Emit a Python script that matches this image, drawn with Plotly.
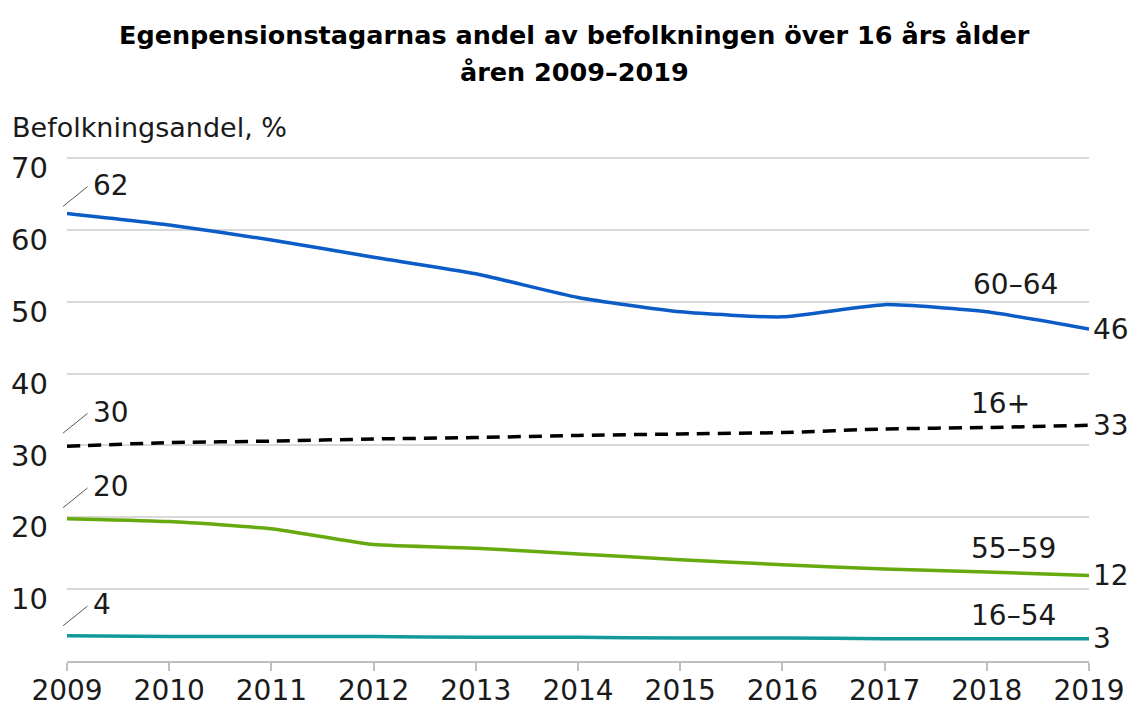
import plotly.graph_objects as go

years = list(range(2009, 2020))
s_6064 = [62.3, 60.7, 58.6, 56.2, 53.9, 50.6, 48.6, 47.9, 49.6, 48.6, 46.2]
s_16p = [29.9, 30.4, 30.6, 30.9, 31.1, 31.4, 31.6, 31.8, 32.3, 32.5, 32.8]
s_5559 = [19.8, 19.4, 18.4, 16.2, 15.7, 14.9, 14.1, 13.4, 12.8, 12.4, 11.9]
s_1654 = [3.5, 3.4, 3.4, 3.4, 3.3, 3.3, 3.2, 3.2, 3.1, 3.1, 3.1]

names = ["60–64", "16+", "55–59", "16–54"]
start_labels = ["62", "30", "20", "4"]
end_labels = ["46", "33", "12", "3"]
y_ticks = [10, 20, 30, 40, 50, 60, 70]

series = [s_6064, s_16p, s_5559, s_1654]
colors = ["#0b5cc7", "#000000", "#66aa0f", "#12999a"]
dashes = ["solid", "13px,8px", "solid", "solid"]
name_shift = [27, 24, 23, 23]
name_x = [2018.28, 2018.13, 2018.26, 2018.26]
leader_shift = [7, 13, 11, 10]

FONT = "DejaVu Sans"
TXT = "#1a1a1a"
W, H = 1129, 699
L, R, T, B = 59, 48, 149, 46
PW, PH = W - L - R, H - T - B
Y_MAX = 70.15  # a hair above 70 so the top gridline is drawn
LABEL_DROP = 10  # px: tick labels sit just below their gridline
label_off = LABEL_DROP * Y_MAX / PH

fig = go.Figure()
for s, c, d, n in zip(series, colors, dashes, names):
    fig.add_trace(go.Scatter(x=years, y=s, mode="lines", name=n,
                             line=dict(color=c, width=3.5, dash=d, shape="spline", smoothing=0.5),
                             showlegend=False, hoverinfo="skip"))
# carrier trace for the label axis
fig.add_trace(go.Scatter(x=[years[0]], y=[None], yaxis="y2", mode="lines",
                         showlegend=False, hoverinfo="skip"))

ann = []
for i, s in enumerate(series):
    ann.append(dict(x=years[0], y=s[0], xref="x", yref="y", text="",
                    showarrow=True, arrowhead=0, arrowwidth=1, arrowcolor="#595959",
                    ax=26, ay=-21, standoff=0, xshift=-4, yshift=leader_shift[i]))
    ann.append(dict(x=years[0], y=s[0], xref="x", yref="y", text=start_labels[i],
                    showarrow=False, xanchor="left", yanchor="middle",
                    xshift=24, yshift=leader_shift[i] + 21,
                    font=dict(size=28, color=TXT, family=FONT)))
    ann.append(dict(x=years[-1], y=s[-1], xref="x", yref="y", text=end_labels[i],
                    showarrow=False, xanchor="left", xshift=2,
                    font=dict(size=28, color=TXT, family=FONT)))
    ann.append(dict(x=name_x[i], y=s[9], xref="x", yref="y", text=names[i],
                    showarrow=False, yshift=name_shift[i],
                    font=dict(size=28, color=TXT, family=FONT)))

ann.append(dict(x=(2 - L) / PW, y=(H - B - 119) / PH, xref="paper", yref="paper",
                text="Befolkningsandel, %", showarrow=False, xanchor="left", yanchor="middle",
                font=dict(size=27, color=TXT, family=FONT)))
title_lines = ["Egenpensionstagarnas andel av befolkningen över 16 års ålder", "åren 2009–2019"]
for txt, yc in zip(title_lines, [27, 64]):
    ann.append(dict(x=(566 - L) / PW, y=(H - B - yc) / PH, xref="paper", yref="paper",
                    text="<b>" + txt + "</b>", showarrow=False, xanchor="center", yanchor="middle",
                    font=dict(size=25.5, color="#000000", family=FONT)))

fig.update_layout(
    width=W, height=H,
    margin=dict(l=L, r=R, t=T, b=B, autoexpand=False),
    plot_bgcolor="white", paper_bgcolor="white",
    xaxis=dict(range=[2009, 2019], tickmode="array", tickvals=years,
               ticktext=[str(y) for y in years], showgrid=False,
               showline=True, linecolor="#bfbfbf", linewidth=2,
               ticks="outside", ticklen=8, tickcolor="#bfbfbf", tickwidth=1.5,
               ticklabelstandoff=-5,
               tickfont=dict(size=28, color=TXT, family=FONT), automargin=False),
    yaxis=dict(range=[0, Y_MAX], tickmode="array", tickvals=y_ticks,
               showgrid=True, gridcolor="#d9d9d9", gridwidth=2,
               zeroline=False, showline=False, ticks="", showticklabels=False,
               automargin=False),
    yaxis2=dict(range=[label_off, Y_MAX + label_off], overlaying="y", side="left",
                tickmode="array", tickvals=y_ticks, showgrid=False, zeroline=False,
                showline=False, ticks="", ticklabelstandoff=18,
                tickfont=dict(size=29, color=TXT, family=FONT), automargin=False),
    annotations=ann,
)
fig.write_html("out.html")
